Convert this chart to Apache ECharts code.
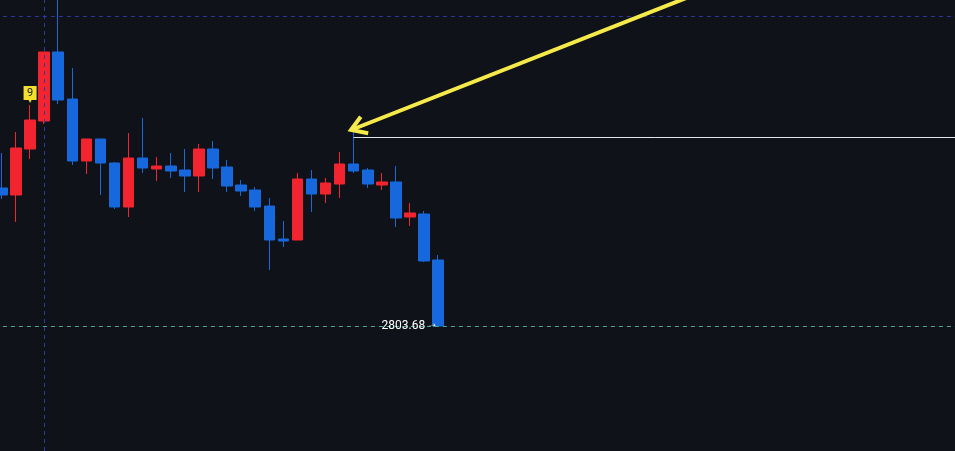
<!DOCTYPE html>
<html>
<head>
<meta charset="utf-8">
<script src="https://cdn.jsdelivr.net/npm/echarts@6/dist/echarts.min.js"></script>
<style>
html,body{margin:0;padding:0;background:#0f1319;}
#chart{width:955px;height:451px;}
</style>
</head>
<body>
<div id="chart"></div>
<script>
// ---- data ----
const barLabels = ['1','2','3','4','5','6','7','8','9','10','11','12','13','14','15','16',
  '17','18','19','20','21','22','23','24','25','26','27','28','29','30','31','32'];
const opens  = [2858.88,2856.08,2874.48,2885.68,2913.28,2894.48,2869.68,2878.48,2868.88,2851.28,2870.88,2866.48,2867.68,2866.08,2863.68,2874.48,
                2867.28,2860.08,2858.08,2851.68,2838.48,2838.08,2862.48,2856.48,2860.48,2868.48,2866.08,2860.08,2861.28,2847.28,2848.48,2830.08];
const closes = [2856.08,2874.88,2886.08,2913.28,2894.08,2869.68,2878.48,2868.88,2851.28,2870.88,2866.88,2867.68,2865.68,2863.68,2874.48,2866.88,
                2859.68,2857.68,2851.28,2838.08,2837.68,2862.48,2856.48,2860.88,2868.48,2865.68,2860.48,2861.28,2846.88,2848.88,2829.68,2803.68];
const lows   = [2854.48,2845.28,2870.48,2884.48,2892.48,2868.08,2864.48,2856.08,2850.48,2847.28,2864.88,2861.68,2862.88,2857.28,2857.28,2862.48,
                2857.28,2855.68,2849.68,2826.08,2835.28,2838.08,2849.28,2852.88,2854.88,2864.88,2858.88,2858.08,2843.28,2843.68,2829.28,2803.68];
const highs  = [2872.88,2881.28,2892.08,2913.28,2940.00,2906.88,2878.48,2878.48,2869.28,2880.88,2886.88,2871.28,2872.88,2874.48,2876.48,2877.68,
                2870.08,2862.08,2859.28,2854.88,2845.68,2864.88,2866.08,2862.88,2873.28,2881.28,2866.88,2864.88,2867.68,2852.88,2849.68,2832.08];
const emptySlots = 37;          // blank bars to the right of the last candle
const priceMin = 2753.68, priceMax = 2934.08;
const lastPrice = 2803.68;
const upperDashLevel = 2927.68;
const resistanceLevel = 2879.08;
const resistanceStartBar = 25;
const markedBar = 3;            // vertical dashed line
const countBar = 2, countText = '9';
// yellow arrow (bar-index units, price)
const arrowShaft = [[49.61, 2937.04], [24.81, 2882.08]];
const arrowHead  = [[25.50, 2887.40], [24.81, 2882.08], [26.03, 2880.76]];

// ---- build ----
const categories = barLabels.concat(Array.from({length: emptySlots}, () => ''));
const candles = opens.map((o, i) => [o, closes[i], lows[i], highs[i]]);
const nCat = categories.length;

const chart = echarts.init(document.getElementById('chart'), null, {renderer: 'canvas'});
const band = 14.07;
const gridLeft = -5.1;
chart.setOption({
  backgroundColor: '#0f1319',
  animation: false,
  grid: {left: gridLeft, top: 0, bottom: 0, width: nCat * band, containLabel: false, outerBoundsMode: 'none'},
  xAxis: [
    {type: 'category', data: categories, show: false, boundaryGap: true},
    {type: 'value', min: -0.5, max: nCat - 0.5, show: false}
  ],
  yAxis: {type: 'value', min: priceMin, max: priceMax, show: false, splitLine: {show: false}},
  series: [
    {
      type: 'candlestick',
      data: candles,
      barWidth: 11,
      itemStyle: {
        color: '#f2242f', color0: '#1668dc',
        borderColor: '#f2242f', borderColor0: '#1668dc', borderWidth: 1
      },
      markLine: {
        silent: true, symbol: 'none', animation: false,
        label: {show: false},
        data: [
          {yAxis: upperDashLevel, lineStyle: {color: '#2f36a0', type: [4, 4], width: 1}},
          {xAxis: markedBar, lineStyle: {color: '#2f3aa6', type: [4, 4], width: 1}},
          {yAxis: lastPrice, lineStyle: {color: '#4fa897', type: [4, 4], width: 1}}
        ]
      },
      markPoint: {
        silent: true, animation: false,
        data: [
          {
            coord: [countBar, highs[countBar]],
            symbol: 'path://M0,0 H13 V14 H8 L6.5,17 L5,14 H0 Z',
            symbolSize: [13, 17],
            symbolOffset: [0, -10.5],
            itemStyle: {color: '#f3df2f'},
            label: {show: true, formatter: countText, color: '#1a1a1a', fontSize: 11,
                    fontFamily: 'Roboto, Arial, sans-serif', position: 'inside', offset: [0, -1.5]}
          },
          {
            coord: [opens.length - 1, lastPrice],
            symbol: 'circle', symbolSize: 0,
            label: {
              show: true, position: 'left', distance: 2,
              formatter: '{a|' + lastPrice.toFixed(2) + '} {b|➝}',
              rich: {
                a: {color: '#ffffff', fontSize: 12, fontFamily: 'Roboto, Arial, sans-serif'},
                b: {color: '#e0e3e8', fontSize: 9, fontFamily: 'DejaVu Sans, sans-serif'}
              }
            }
          }
        ]
      }
    },
    {
      type: 'line', xAxisIndex: 1, silent: true, showSymbol: false, z: 3,
      data: [[resistanceStartBar, resistanceLevel], [nCat + 2, resistanceLevel]],
      lineStyle: {color: '#e2e5ea', width: 1}
    },
    {
      type: 'line', xAxisIndex: 1, data: arrowShaft, showSymbol: false, silent: true,
      lineStyle: {color: '#f6ea4a', width: 4, cap: 'butt'}, z: 10
    },
    {
      type: 'line', xAxisIndex: 1, data: arrowHead, showSymbol: false, silent: true,
      lineStyle: {color: '#f6ea4a', width: 4, cap: 'butt', join: 'miter'}, z: 10
    }
  ]
});
</script>
</body>
</html>
